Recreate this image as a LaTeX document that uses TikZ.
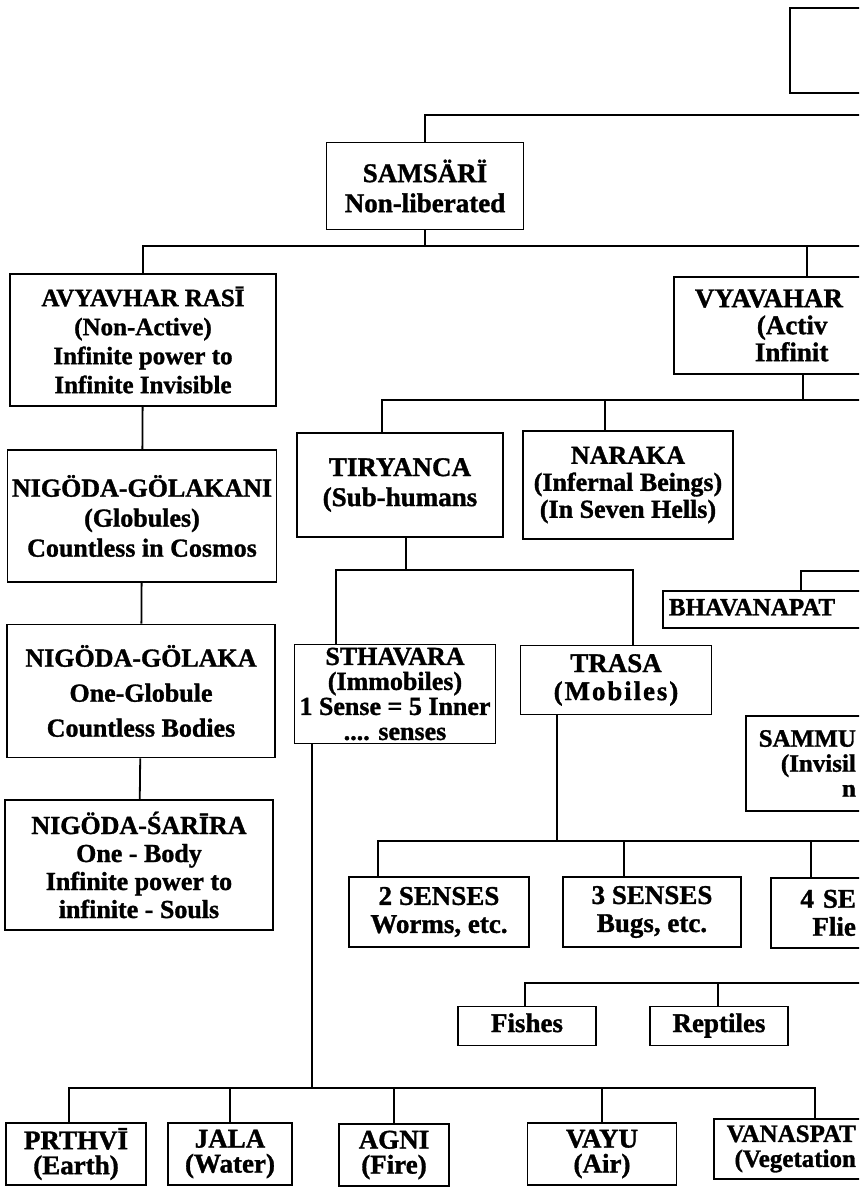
\documentclass[tikz,border=0pt]{standalone}
\usepackage{fontspec}
\setmainfont{Liberation Serif}[BoldFeatures={FakeBold=1.2}]
\begin{document}
\begin{tikzpicture}[x=1pt, y=-1pt, line width=1.8pt,
    box/.style={draw, align=center, inner sep=0pt, font=\fontsize{27}{28}\selectfont\bfseries},
    cutbox/.style={box, anchor=north west, align=right, inner xsep=6pt},
    oneline/.style={text height=18pt, text depth=6pt}]
  \useasboundingbox (0,0) rectangle (859,1188);
  \clip (0,0) rectangle (859,1188);

  % top row
  \node[draw, anchor=north west, minimum width=100, minimum height=85, inner sep=0pt] (topbox) at (789,7) {};
  \node[box, minimum width=197, minimum height=87, font=\fontsize{27}{30}\selectfont\bfseries] (samsari) at (425,186) {SAMSÄRÏ\\Non-liberated};

  \node[box, minimum width=266, minimum height=132, font=\fontsize{25}{29}\selectfont\bfseries] (avyavhar) at (143,340) {AVYAVHAR RASĪ\\(Non-Active)\\Infinite power to\\Infinite Invisible};
  \node[cutbox, align=left, inner xsep=21pt, text width=200, minimum height=97, font=\fontsize{27}{27}\selectfont\bfseries] (vyavahar) at (673,276) {VYAVAHAR\\\hspace*{62pt}(Activ\\\hspace*{60pt}Infinit};

  % left column
  \node[box, minimum width=269, minimum height=132, font=\fontsize{26}{30}\selectfont\bfseries] (golakani) at (142,516) {NIGÖDA-GÖLAKANI\\(Globules)\\Countless in Cosmos};
  \node[box, minimum width=268, minimum height=133, font=\fontsize{26}{35}\selectfont\bfseries] (golaka) at (141,691) {NIGÖDA-GÖLAKA\\One-Globule\\Countless Bodies};
  \node[box, minimum width=268, minimum height=130, font=\fontsize{26}{28}\selectfont\bfseries] (sarira) at (139,865) {NIGÖDA-ŚARĪRA\\One - Body\\Infinite power to\\infinite - Souls};

  % middle
  \node[box, minimum width=206, minimum height=104, font=\fontsize{27}{30}\selectfont\bfseries] (tiryanca) at (400,485) {TIRYANCA\\(Sub-humans};
  \node[box, minimum width=210, minimum height=108, font=\fontsize{26}{27}\selectfont\bfseries] (naraka) at (628,485) {NARAKA\\(Infernal Beings)\\(In Seven Hells)};
  \node[box, minimum width=201, minimum height=99, font=\fontsize{26}{25}\selectfont\bfseries] (sthavara) at (395,694) {STHAVARA\\(Immobiles)\\1 Sense = 5 Inner\\.... senses};
  \node[box, minimum width=191, minimum height=69] (trasa) at (616,680) {TRASA\\{\addfontfeature{LetterSpace=7}(Mobiles)}};
  \node[cutbox, oneline, align=left, text width=200, minimum height=37, font=\fontsize{25}{27}\selectfont\bfseries] (bhavanapat) at (662,590) {BHAVANAPAT};
  \node[cutbox, text width=104, minimum height=95, font=\fontsize{25}{25}\selectfont\bfseries] (sammu) at (745,715) {SAMMU\\(Invisil\\n};

  \node[box, minimum width=180, minimum height=70] (twosenses) at (439,912) {2 SENSES\\Worms, etc.};
  \node[box, minimum width=178, minimum height=70] (threesenses) at (652,912) {3 SENSES\\Bugs, etc.};
  \node[cutbox, text width=79, minimum height=70] (foursenses) at (770,877) {4 SE\\Flie};

  \node[box, oneline, minimum width=138, minimum height=39] (fishes) at (527,1026) {Fishes};
  \node[box, oneline, minimum width=138, minimum height=39] (reptiles) at (719,1026) {Reptiles};

  % bottom row
  \node[box, minimum width=140, minimum height=62, font=\fontsize{27}{25}\selectfont\bfseries] (prthvi) at (76,1154) {PRTHVĪ\\(Earth)};
  \node[box, minimum width=124, minimum height=62, font=\fontsize{27}{25}\selectfont\bfseries] (jala) at (230,1154) {JALA\\(Water)};
  \node[box, minimum width=110, minimum height=62, font=\fontsize{27}{25}\selectfont\bfseries] (agni) at (394,1155) {AGNI\\(Fire)};
  \node[box, minimum width=149, minimum height=62, font=\fontsize{27}{25}\selectfont\bfseries] (vayu) at (602,1154) {VAYU\\(Air)};
  \node[cutbox, text width=136, minimum height=60, font=\fontsize{25}{25}\selectfont\bfseries] (vanaspat) at (713,1118) {VANASPAT\\(Vegetation};

  % buses
  \coordinate (bus1) at (870,115);
  \coordinate (bus2) at (870,246);
  \coordinate (bus3) at (870,400);
  \coordinate (bus4) at (406,570);
  \coordinate (bus5) at (870,841);
  \coordinate (bus6) at (870,983);
  \coordinate (bus7) at (312,1088);
  \coordinate (vyvtop) at ([xshift=134]vyavahar.north west);
  \coordinate (vyvbot) at ([xshift=130]vyavahar.south west);
  \coordinate (bhvtop) at ([xshift=139]bhavanapat.north west);

  \draw (samsari.north) |- (bus1);
  \draw (bhvtop) -- ++(0,-19) -- ++(80,0);
  \draw (avyavhar.north) |- (bus2);
  \draw (samsari.south) -- (samsari.south |- bus2);
  \draw (vyvtop) -- (vyvtop |- bus2);
  \draw ([xshift=-18]tiryanca.north) |- (bus3);
  \draw ([xshift=-23]naraka.north) -- ([xshift=-23]naraka.north |- bus3);
  \draw (vyvbot) -- (vyvbot |- bus3);
  \draw (avyavhar) -- (golakani) -- (golaka) -- (sarira);
  \draw ([xshift=6]tiryanca.south) -- (bus4);
  \draw ([xshift=-59]sthavara.north) |- (bus4) -| ([xshift=17]trasa.north);
  \draw ([xshift=-59]trasa.south) -- ([xshift=-59]trasa.south |- bus5);
  \draw ([xshift=-61]twosenses.north) |- (bus5);
  \draw ([xshift=-28]threesenses.north) -- ([xshift=-28]threesenses.north |- bus5);
  \draw ([xshift=41]foursenses.north west) -- ([xshift=41]foursenses.north west |- bus5);
  \draw ([xshift=-2]fishes.north) |- (bus6);
  \draw ([xshift=-1]reptiles.north) -- ([xshift=-1]reptiles.north |- bus6);
  \draw ([xshift=-83]sthavara.south) -- (bus7);
  \draw ([xshift=-7]prthvi.north) |- (bus7) -| ([xshift=102]vanaspat.north west);
  \foreach \n in {jala,agni,vayu}
    \draw (\n.north) -- (\n.north |- bus7);
\end{tikzpicture}
\end{document}
